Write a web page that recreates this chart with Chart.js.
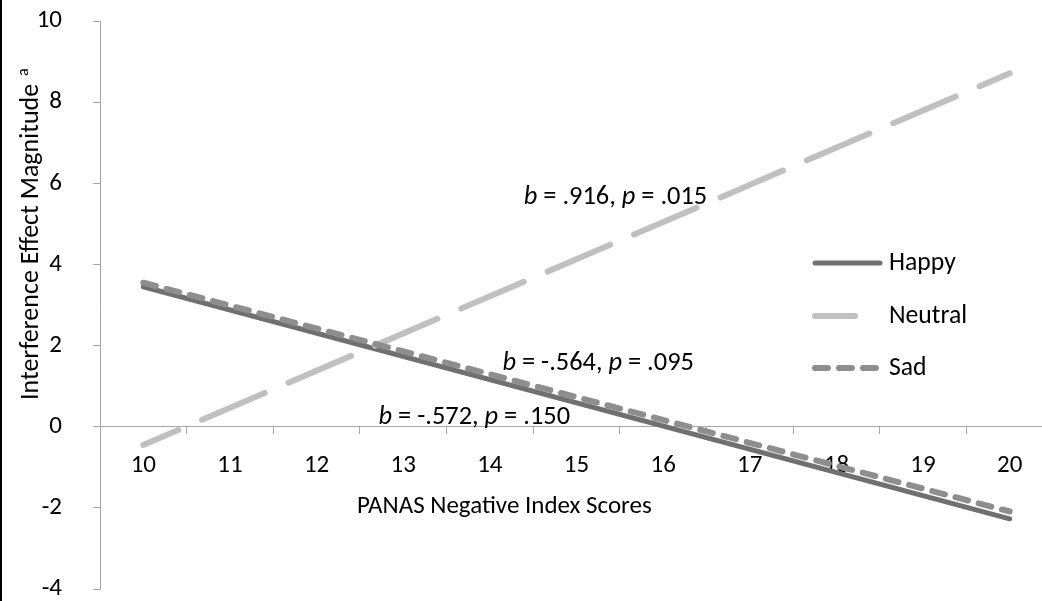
<!DOCTYPE html>
<html><head><meta charset="utf-8">
<script src="https://cdn.jsdelivr.net/npm/chart.js@4.4.1/dist/chart.umd.min.js"></script>
<style>
html,body{margin:0;padding:0;background:#fff;}
#wrap{position:relative;width:1042px;height:601px;overflow:hidden;background:#fff;}
#edge{position:absolute;left:0;top:0;width:2px;height:601px;background:#000;}
canvas{position:absolute;left:0;top:0;}
</style></head><body>
<div id="wrap"><canvas id="c" width="1060" height="601"></canvas><div id="edge"></div></div>
<script>
// ---- data ----
const categories = ['10','11','12','13','14','15','16','17','18','19','20'];
const lineX = ['10','20'];
const happyY = [3.45, -2.27];
const neutralY = [-0.45, 8.71];
const sadY = [3.55, -2.09];
const seriesNames = ['Happy','Neutral','Sad'];
const yMin = -4, yMax = 10, yStep = 2;
const xTitle = 'PANAS Negative Index Scores';
const yTitle = 'Interference Effect Magnitude';
const yTitleSup = 'a';
const noteTexts = [
  [['b',true],[' = .916, ',false],['p',true],[' = .015',false]],
  [['b',true],[' = -.564, ',false],['p',true],[' = .095',false]],
  [['b',true],[' = -.572, ',false],['p',true],[' = .150',false]]
];
// ---- style ----
const FONT = 'Carlito, Calibri, Lato, sans-serif';
const AXIS = '#a6a6a6';
const toPts = ys => lineX.map((x,i)=>({x:x, y:ys[i]}));

const notePos = [ {x:15.45, y:5.66}, {x:15.25, y:1.55}, {x:13.82, y:0.22} ];

const overlay = {
  id:'overlay',
  afterDraw(chart){
    const ctx = chart.ctx;
    const xs = chart.scales.x, ys = chart.scales.y;
    ctx.save();
    ctx.fillStyle = '#000';
    // annotations
    noteTexts.forEach((segs,k)=>{
      const size = 26.4;
      let total = 0;
      const ws = segs.map(([t,it])=>{ ctx.font = (it?'italic ':'') + size + 'px ' + FONT; const w = ctx.measureText(t).width; total += w; return w; });
      let px = xs.getPixelForValue(notePos[k].x - 10) - total/2;
      const py = ys.getPixelForValue(notePos[k].y);
      ctx.textBaseline = 'middle'; ctx.textAlign = 'left';
      segs.forEach(([t,it],i)=>{ ctx.font = (it?'italic ':'') + size + 'px ' + FONT; ctx.fillText(t, px, py); px += ws[i]; });
    });
    // x title
    ctx.font = '25px ' + FONT; ctx.textAlign = 'left'; ctx.textBaseline = 'middle';
    ctx.fillText(xTitle, 357, 507);
    // y title
    ctx.save();
    ctx.translate(31, 400); ctx.rotate(-Math.PI/2);
    ctx.textAlign = 'left'; ctx.textBaseline = 'middle';
    ctx.font = '26px ' + FONT;
    const w = ctx.measureText(yTitle + ' ').width;
    ctx.fillText(yTitle, 0, 0);
    ctx.font = '16px ' + FONT;
    ctx.fillText(yTitleSup, w + 2, -7);
    ctx.restore();
    // legend
    const ly = [263, 316, 368];
    chart.data.datasets.forEach((ds,i)=>{
      ctx.save();
      ctx.strokeStyle = ds.borderColor; ctx.lineWidth = ds.borderWidth; ctx.lineCap = 'round';
      ctx.setLineDash(ds.legendDash || []);
      ctx.beginPath(); ctx.moveTo(815, ly[i]); ctx.lineTo(880, ly[i]); ctx.stroke();
      ctx.restore();
      ctx.font = '25.7px ' + FONT; ctx.textAlign = 'left'; ctx.textBaseline = 'middle';
      ctx.fillText(ds.label, 889, ly[i] + 1);
    });
    ctx.restore();
  }
};

new Chart(document.getElementById('c'), {
  type:'line',
  data:{
    labels: categories,
    datasets:[
      {label:seriesNames[0], data:toPts(happyY), borderColor:'#707070', borderWidth:5, borderCapStyle:'round', pointRadius:0, order:3, legendDash:[]},
      {label:seriesNames[1], data:toPts(neutralY), borderColor:'#c0c0c0', borderWidth:6, borderCapStyle:'round', borderDash:[68,26], borderDashOffset:30, pointRadius:0, order:2, legendDash:[40,25]},
      {label:seriesNames[2], data:toPts(sadY), borderColor:'#8e8e8e', borderWidth:6, borderCapStyle:'round', borderDash:[13,11], pointRadius:0, order:1, legendDash:[13,11]}
    ]
  },
  options:{
    responsive:false, animation:false, devicePixelRatio:1,
    layout:{padding:{top:21, bottom:12, left:0, right:7}},
    plugins:{legend:{display:false}, tooltip:{enabled:false}},
    scales:{
      x:{type:'category', offset:true, position:{y:0},
        afterFit: s => { s.paddingLeft = 0; s.paddingRight = 0; s.paddingTop = 0; s.paddingBottom = 0; },
        grid:{display:true, drawOnChartArea:false, offset:true, tickLength:7, color:AXIS, lineWidth:1},
        border:{display:true, color:AXIS, width:1},
        ticks:{font:{family:FONT, size:25, lineHeight:1.2}, color:'#000', padding:17, maxRotation:0, autoSkip:false}},
      y:{type:'linear', min:yMin, max:yMax,
        afterFit: s => { s.width = 100; s.paddingTop = 0; s.paddingBottom = 0; },
        grid:{display:true, drawOnChartArea:false, tickLength:7, color:AXIS, lineWidth:1},
        border:{display:true, color:AXIS, width:1},
        ticks:{stepSize:yStep, font:{family:FONT, size:25, lineHeight:1}, color:'#000', padding:31}}
    }
  },
  plugins:[overlay]
});
</script></body></html>
